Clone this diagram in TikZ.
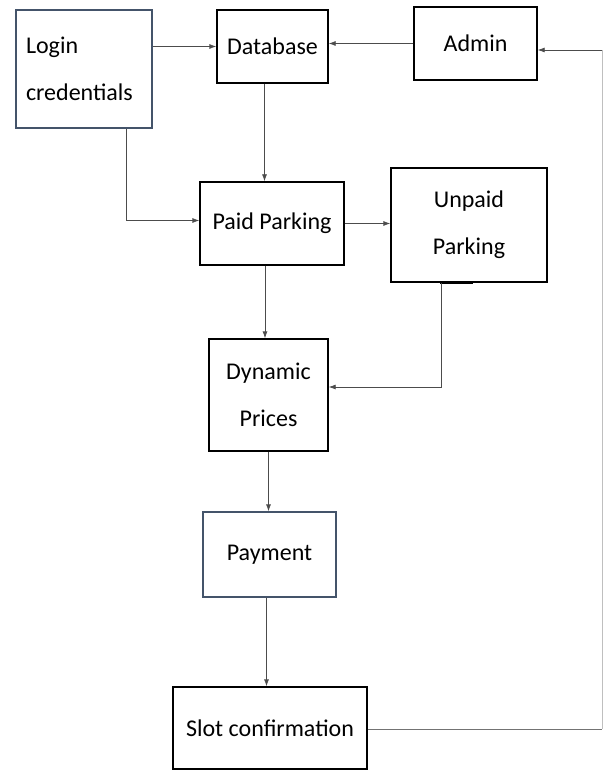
\documentclass[tikz,border=0pt]{standalone}
\usepackage{fontspec}
\setmainfont{Carlito}
\usetikzlibrary{arrows.meta}
\definecolor{boxblue}{HTML}{44546A}
\tikzset{
    box/.style={draw=black, line width=1.3pt, fill=white, inner sep=0pt, align=center, font=\fontsize{24}{47}\selectfont},
    arr/.style={draw=black!70, line width=0.8pt, -{Latex[length=7pt,width=5pt]}},
    wire/.style={draw=black!55, line width=0.9pt}
}
\begin{document}
\begin{tikzpicture}[x=1pt,y=-1pt]
    \useasboundingbox (0,0) rectangle (604,770);
    % Boxes
    \node[box, draw=boxblue, minimum width=136pt, minimum height=118pt, text width=116pt, align=left] (login) at (84,69) {Login\\credentials};
    \node[box, minimum width=111pt, minimum height=73pt] (database) at (272.5,46.5) {Database};
    \node[box, minimum width=123pt, minimum height=73pt] (admin) at (475.5,43.5) {Admin};
    \node[box, minimum width=144pt, minimum height=83pt] (paid) at (272,223.5) {Paid Parking};
    \node[box, minimum width=156pt, minimum height=114pt] (unpaid) at (469,225) {Unpaid\\Parking};
    \node[box, minimum width=119pt, minimum height=112pt] (dynamic) at (268.5,395) {Dynamic\\Prices};
    \node[box, draw=boxblue, minimum width=133pt, minimum height=85pt] (payment) at (269.5,554.5) {Payment};
    \node[box, minimum width=194pt, minimum height=82pt] (slot) at (270,728) {Slot confirmation};
    % Right-hand loop back to Admin
    \coordinate (rtop) at (602,50);
    \coordinate (rbot) at (602,729);
    \draw[draw=black!25, line width=0.8pt] (rbot) -- (rtop);
    \draw[wire] (slot.east |- rbot) -- (rbot);
    \draw[arr] (rtop) -- (admin.east |- rtop);
    % Top row
    \draw[arr] (login.east |- database.west) -- (database.west);
    \draw[arr] (admin.west) -- (admin.west -| database.east);
    % Into Paid Parking
    \draw[arr] ([xshift=-8pt]database.south) -- ([xshift=-8pt]database.south |- paid.north);
    \draw[arr] ([xshift=42pt]login.south) |- ([yshift=3pt]paid.west);
    \draw[arr] (paid.east) -- (paid.east -| unpaid.west);
    % Into Dynamic Prices
    \draw[arr] ([xshift=-7pt]paid.south) -- ([xshift=-7pt]paid.south |- dynamic.north);
    \draw[line width=2.5pt] ([xshift=-29pt]unpaid.south) -- ([xshift=4pt]unpaid.south);
    \draw[arr] ([xshift=-28pt]unpaid.south) |- ([yshift=8pt]dynamic.east);
    % Down to confirmation
    \draw[arr] (dynamic.south) -- (dynamic.south |- payment.north);
    \draw[arr] ([xshift=-3pt]payment.south) -- ([xshift=-3pt]payment.south |- slot.north);
\end{tikzpicture}
\end{document}
